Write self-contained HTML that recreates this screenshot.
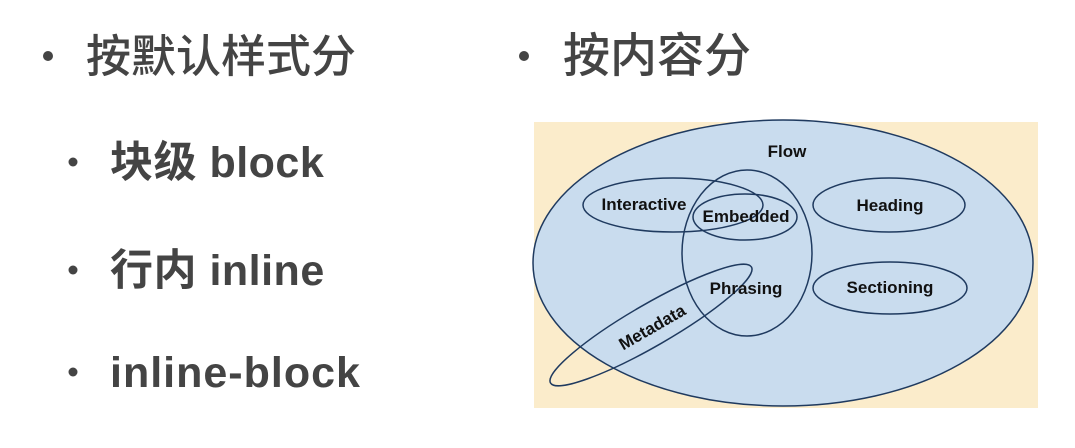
<!DOCTYPE html>
<html><head><meta charset="utf-8"><style>
html,body{margin:0;padding:0;background:#fff;width:1075px;height:448px;overflow:hidden}
svg{display:block}
.t{font-family:"Liberation Sans","Noto Sans CJK SC",sans-serif;fill:#444}
.d{font-family:"Liberation Sans",sans-serif;font-weight:bold;font-size:17px;fill:#111}
</style></head><body>
<svg width="1075" height="448" viewBox="0 0 1075 448">
<circle cx="48" cy="56" r="5" fill="#444"/>
<text class="t" x="86" y="72" font-size="45" font-weight="500">按默认样式分</text>
<circle cx="524" cy="56" r="5" fill="#444"/>
<text class="t" x="563" y="72" font-size="47" font-weight="500">按内容分</text>
<circle cx="73" cy="162" r="4.5" fill="#444"/>
<text class="t" x="110" y="177" font-size="43" font-weight="bold" letter-spacing="0.5">块级 block</text>
<circle cx="73" cy="270" r="4.5" fill="#444"/>
<text class="t" x="110" y="285" font-size="43" font-weight="bold" letter-spacing="0.5">行内 inline</text>
<circle cx="73" cy="372" r="4.5" fill="#444"/>
<text class="t" x="110" y="387" font-size="43" font-weight="bold" letter-spacing="1">inline-block</text>

<rect x="534" y="122" width="504" height="286" fill="#fbeccb"/>
<g fill="none" stroke="#1f3a5f" stroke-width="1.5">
<ellipse cx="783" cy="263" rx="250" ry="143" fill="#c9dcee"/>
<ellipse cx="673" cy="205" rx="90" ry="27"/>
<ellipse cx="745" cy="217" rx="52" ry="23"/>
<ellipse cx="747" cy="253" rx="65" ry="83"/>
<ellipse cx="889" cy="205" rx="76" ry="27"/>
<ellipse cx="890" cy="288" rx="77" ry="26"/>
<ellipse cx="651" cy="325" rx="116" ry="21" transform="rotate(-30 651 325)"/>
</g>
<text class="d" x="787" y="157" text-anchor="middle">Flow</text>
<text class="d" x="644" y="210" text-anchor="middle">Interactive</text>
<text class="d" x="746" y="222" text-anchor="middle">Embedded</text>
<text class="d" x="890" y="211" text-anchor="middle">Heading</text>
<text class="d" x="746" y="294" text-anchor="middle">Phrasing</text>
<text class="d" x="890" y="293" text-anchor="middle">Sectioning</text>
<text class="d" x="652" y="333" text-anchor="middle" font-size="16" transform="rotate(-30 652 327)">Metadata</text>
</svg>
</body></html>
